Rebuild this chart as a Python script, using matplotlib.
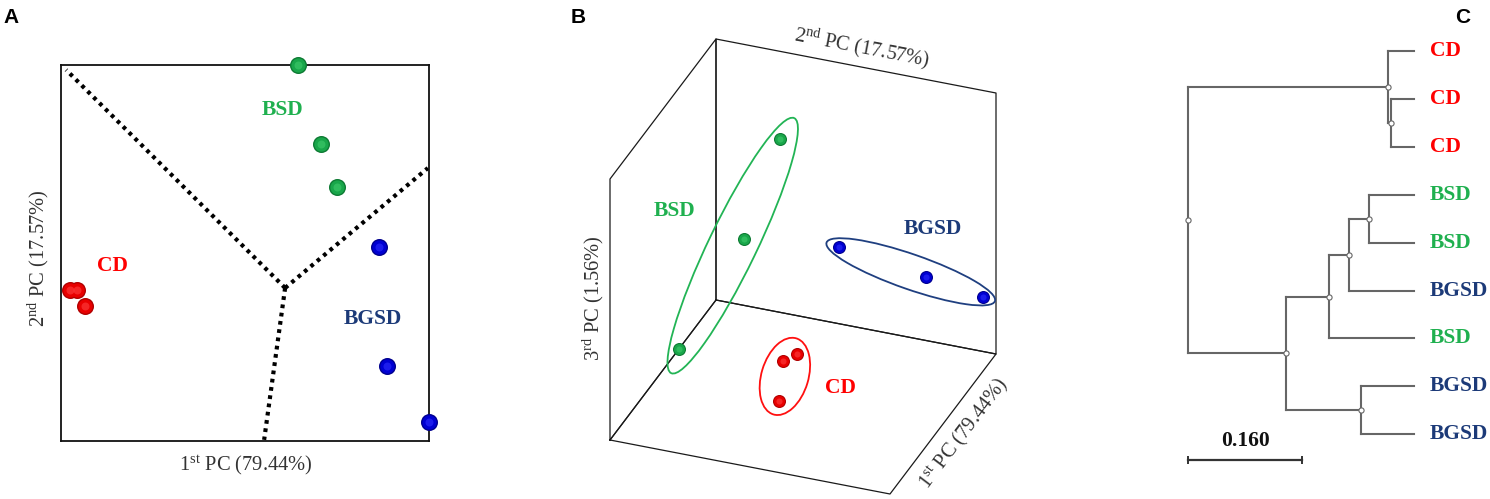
import numpy as np
import matplotlib
matplotlib.use("Agg")
import matplotlib.pyplot as plt
from matplotlib.patches import Ellipse

plt.rcParams["font.family"] = ["Liberation Serif", "DejaVu Serif"]
plt.rcParams["mathtext.fontset"] = "custom"
plt.rcParams["mathtext.rm"] = "Liberation Serif"
plt.rcParams["mathtext.it"] = "Liberation Serif:italic"
plt.rcParams["mathtext.bf"] = "Liberation Serif:bold"

# ---- panel A: 2-D PCA scores (box scaled to 0-10) ----
cd_pc1 = [0.24, 0.43, 0.65]
cd_pc2 = [4.02, 4.02, 3.59]
bsd_pc1 = [6.44, 7.07, 7.50]
bsd_pc2 = [10.0, 7.90, 6.76]
bgsd_pc1 = [8.64, 8.86, 10.0]
bgsd_pc2 = [5.16, 1.99, 0.51]
# decision boundaries: common centre and three end points
bound_centre = (6.09, 4.07)
bound_end_x = [0.14, 9.97, 5.52]
bound_end_y = [9.87, 7.26, 0.03]

# ---- panel B: 3-D PCA scores (unit cube) ----
cd_3d = {"pc1": [0.60, 0.60, 0.30], "pc2": [0.39, 0.44, 0.49], "pc3": [0.06, 0.10, 0.09]}
bsd_3d = {"pc1": [0.60, 0.60, 0.60], "pc2": [0.38, 0.25, 0.02], "pc3": [0.91, 0.50, 0.03]}
bgsd_3d = {"pc1": [0.60, 0.60, 0.90], "pc2": [0.59, 0.90, 0.99], "pc3": [0.54, 0.49, 0.27]}

# ---- panel C: UPGMA tree ----
leaf_labels = ["CD", "CD", "CD", "BSD", "BSD", "BGSD", "BSD", "BGSD", "BGSD"]
# (child a, child b, height)
merges = [(1, 2, 0.032), (0, 9, 0.037), (3, 4, 0.063), (11, 5, 0.091),
          (12, 6, 0.119), (7, 8, 0.074), (13, 14, 0.180), (10, 15, 0.317)]
scale_len = 0.160

TEXT_COL = {"CD": "#ff0000", "BSD": "#1fb04f", "BGSD": "#1c3a78"}
SPHERE = {"CD": ("#e80000", "#b00000", "#ff4040"),
          "BSD": ("#19a64a", "#0d7a33", "#40cc6c"),
          "BGSD": ("#0000d2", "#00008e", "#3030ff")}
ELL_COL = {"CD": "#ff1010", "BSD": "#22b455", "BGSD": "#1f3f80"}

W, H = 1490, 499
fig = plt.figure(figsize=(W / 100, H / 100), dpi=100)


def px_axes(x0, y0, x1, y1):
    return fig.add_axes([x0 / W, 1 - y1 / H, (x1 - x0) / W, (y1 - y0) / H])


def spheres(ax, x, y, grp, s):
    base, dark, light = SPHERE[grp]
    ax.scatter(x, y, s=s, color=dark, lw=0, zorder=5, clip_on=False)
    ax.scatter(x, y, s=s * 0.7, color=base, lw=0, zorder=6, clip_on=False)
    ax.scatter(x, y, s=s * 0.22, color=light, lw=0, zorder=7, clip_on=False,
               alpha=0.6)


# ================= A =================
axA = px_axes(61, 65, 429, 441)
axA.set_xlim(0, 10)
axA.set_ylim(0, 10)
axA.set_xticks([])
axA.set_yticks([])
for sp in axA.spines.values():
    sp.set_linewidth(1.3)
    sp.set_color("#111111")

for ex, ey in zip(bound_end_x, bound_end_y):
    axA.plot([bound_centre[0], ex], [bound_centre[1], ey], color="black", lw=3,
             linestyle=(0, (0.9, 1.1)), dash_capstyle="butt", zorder=2)

spheres(axA, cd_pc1, cd_pc2, "CD", 150)
spheres(axA, bsd_pc1, bsd_pc2, "BSD", 150)
spheres(axA, bgsd_pc1, bgsd_pc2, "BGSD", 150)

axA.text(6.03, 8.80, "BSD", color=TEXT_COL["BSD"], fontsize=15.5, fontweight="bold",
         ha="center", va="center")
axA.text(1.41, 4.65, "CD", color=TEXT_COL["CD"], fontsize=15.5, fontweight="bold",
         ha="center", va="center")
axA.text(8.48, 3.24, "BGSD", color=TEXT_COL["BGSD"], fontsize=15.5, fontweight="bold",
         ha="center", va="center")
axA.text(0.503, -0.064, r"1$^{\rm st}$ PC (79.44%)", transform=axA.transAxes,
         fontsize=14.8, color="#333333", ha="center", va="center")
axA.text(-0.062, 0.487, r"2$^{\rm nd}$ PC (17.57%)", transform=axA.transAxes,
         fontsize=14.8, color="#333333", ha="center", va="center", rotation=90)

# ================= B =================
axB = px_axes(0, 0, W, H)
axB.set_xlim(0, W)
axB.set_ylim(H, 0)
axB.axis("off")
axB.patch.set_alpha(0)

B_ORIGIN = np.array([610.0, 440.0])
E1 = np.array([106.0, -140.0])   # 1st PC (depth)
E2 = np.array([280.0, 54.0])     # 2nd PC
E3 = np.array([0.0, -261.0])     # 3rd PC (vertical)


def project(p1, p2, p3):
    p1, p2, p3 = (np.asarray(v, float)[:, None] for v in (p1, p2, p3))
    return B_ORIGIN + p1 * E1 + p2 * E2 + p3 * E3


panes = [  # floor, back wall, left wall
    ([0, 0, 1, 1, 0], [0, 1, 1, 0, 0], [0, 0, 0, 0, 0]),
    ([1, 1, 1, 1, 1], [0, 1, 1, 0, 0], [0, 0, 1, 1, 0]),
    ([0, 1, 1, 0, 0], [0, 0, 0, 0, 0], [0, 0, 1, 1, 0]),
]
for c1, c2, c3 in panes:
    pts = project(c1, c2, c3)
    axB.plot(pts[:, 0], pts[:, 1], color="#1a1a1a", lw=0.9, zorder=1)

ell_pad = {"CD": (29, 47), "BSD": (50, 48), "BGSD": (26, 35)}
for grp, d in [("BSD", bsd_3d), ("BGSD", bgsd_3d), ("CD", cd_3d)]:
    pts = project(d["pc1"], d["pc2"], d["pc3"])
    mean = pts.mean(axis=0)
    dev = pts - mean
    evals, evecs = np.linalg.eigh(dev.T @ dev)
    u = evecs[:, -1]
    proj = dev @ u
    centre = mean + u * (proj.max() + proj.min()) / 2
    length = proj.max() - proj.min() + ell_pad[grp][0]
    ang = np.degrees(np.arctan2(u[1], u[0]))
    axB.add_patch(Ellipse(centre, length, ell_pad[grp][1], angle=ang, fill=False,
                          edgecolor=ELL_COL[grp], lw=1.3, zorder=3))
    spheres(axB, pts[:, 0], pts[:, 1], grp, 88)

axB.text(675, 211, "BSD", color=TEXT_COL["BSD"], fontsize=15.5, fontweight="bold",
         ha="center", va="center")
axB.text(933, 229, "BGSD", color=TEXT_COL["BGSD"], fontsize=15.5, fontweight="bold",
         ha="center", va="center")
axB.text(840, 388, "CD", color=TEXT_COL["CD"], fontsize=15.5, fontweight="bold",
         ha="center", va="center")
axB.text(862, 48, r"2$^{\rm nd}$ PC (17.57%)", fontsize=14.8, color="#333333",
         ha="center", va="center", rotation=-10.9, rotation_mode="anchor")
axB.text(593, 298, r"3$^{\rm rd}$ PC (1.56%)", fontsize=14.8, color="#333333",
         ha="center", va="center", rotation=90)
axB.text(964, 434, r"1$^{\rm st}$ PC (79.44%)", fontsize=14.8, color="#333333",
         ha="center", va="center", rotation=52.9, rotation_mode="anchor")

# ================= C =================
axC = px_axes(1150, 0, W, H)
axC.set_xlim(0.371, -0.1067)
axC.set_ylim(9.35, -1.065)
axC.axis("off")
axC.patch.set_alpha(0)

tree_col = "#666666"
node_y = list(np.arange(len(leaf_labels), dtype=float))
node_h = [0.0] * len(leaf_labels)
for a, b, h in merges:
    ya, yb = node_y[a], node_y[b]
    axC.plot([node_h[a], h], [ya, ya], color=tree_col, lw=1.5)
    axC.plot([node_h[b], h], [yb, yb], color=tree_col, lw=1.5)
    axC.plot([h, h], [ya, yb], color=tree_col, lw=1.5)
    node_y.append((ya + yb) / 2)
    node_h.append(h)
n_leaf = len(leaf_labels)
axC.scatter(node_h[n_leaf:], node_y[n_leaf:], s=14, facecolor="white",
            edgecolor=tree_col, lw=0.8, zorder=4)

for i, lab in enumerate(leaf_labels):
    axC.text(-0.0225, i, lab, color=TEXT_COL[lab], fontsize=15.5, fontweight="bold",
             ha="left", va="center")

root_h = merges[-1][2]
axC.plot([root_h, root_h - scale_len], [8.54, 8.54], color="#333333", lw=1.6,
         marker="|", markersize=6, markeredgewidth=1.4)
axC.text(root_h - scale_len / 2, 8.13, f"{scale_len:.3f}", fontsize=15.5,
         fontweight="bold", ha="center", va="center", color="#111111")

# panel letters
for lab, x in [("A", 3), ("B", 571), ("C", 1455)]:
    fig.text(x / W, 1 - 23 / H, lab, fontsize=15, fontweight="bold",
             family="Liberation Sans", ha="left", va="baseline")

fig.savefig("out.png", dpi=100)
